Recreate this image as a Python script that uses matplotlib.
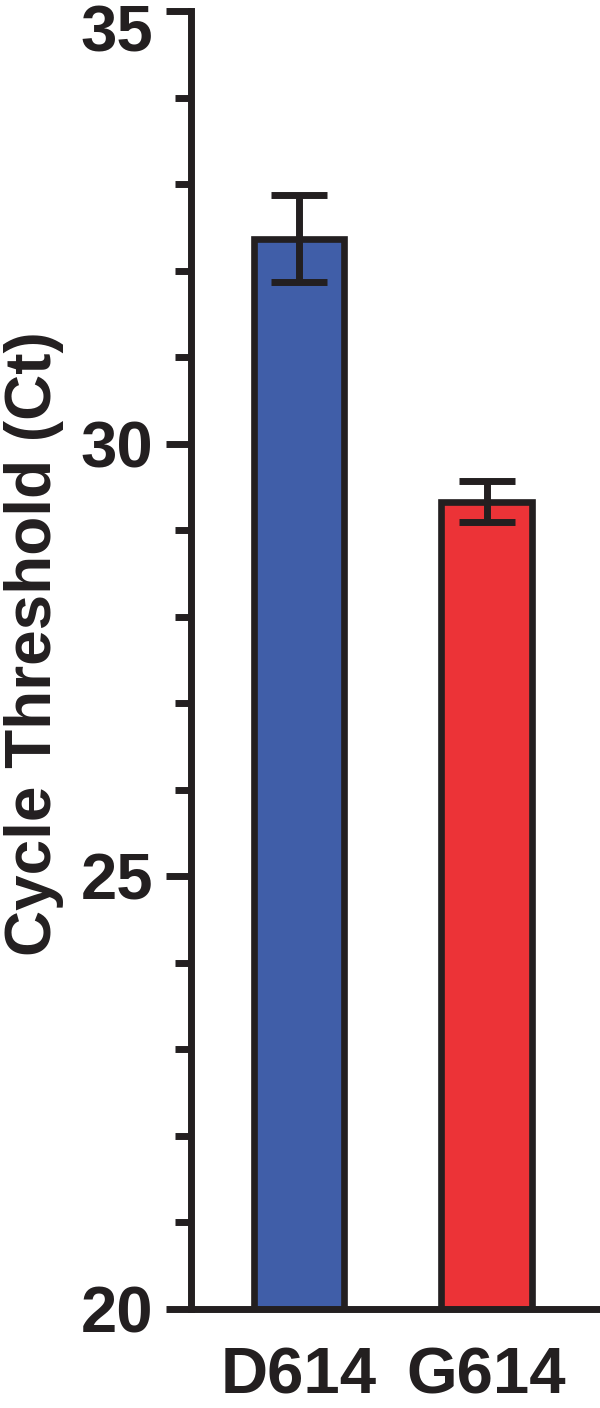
import numpy as np
import matplotlib
matplotlib.use('Agg')
import matplotlib.pyplot as plt
import matplotlib.transforms as mtransforms
from matplotlib.ticker import MultipleLocator

# data
variants = ['D614', 'G614']
ct_mean = [32.37, 29.33]
ct_err = [0.50, 0.24]
bar_colors = ['#405EA8', '#EC3337']
yticks = [20, 25, 30, 35]

ink = '#231F20'
plt.rcParams['font.family'] = ['Liberation Sans', 'DejaVu Sans']
plt.rcParams['font.weight'] = 'bold'

fig = plt.figure(figsize=(6, 14.08), dpi=100)
ax = fig.add_axes([191/600, 99/1408, 409/600, 1298/1408])

x = np.arange(len(variants))
ax.bar(x, ct_mean, width=0.485, color=bar_colors, edgecolor=ink,
       linewidth=4.8, zorder=2)
ax.errorbar(x, ct_mean, yerr=ct_err, fmt='none', ecolor=ink,
            elinewidth=5, capsize=20, capthick=5, zorder=3)

ax.set_ylim(20, 35)
ax.set_xlim(-0.576, 1.605)
ax.set_yticks(yticks)
ax.yaxis.set_minor_locator(MultipleLocator(1))

ax.spines['top'].set_visible(False)
ax.spines['right'].set_visible(False)
for s in ['left', 'bottom']:
    ax.spines[s].set_linewidth(5)
    ax.spines[s].set_color(ink)

ax.tick_params(axis='y', which='major', length=18, width=5, color=ink,
               pad=9, labelsize=47, labelcolor=ink)
ax.tick_params(axis='y', which='minor', length=11.5, width=5, color=ink)
ax.tick_params(axis='x', length=0, pad=27, labelsize=47, labelcolor=ink)

ax.set_xticks(x)
ax.set_xticklabels(variants, fontweight='bold')
ylabs = ax.get_yticklabels()
for t in ylabs:
    t.set_fontweight('bold')
# top label sits a little lower so it stays inside the figure
top = ylabs[-1]
top.set_transform(top.get_transform() +
                  mtransforms.ScaledTranslation(0, -0.17, fig.dpi_scale_trans))

ax.set_ylabel('Cycle Threshold (Ct)', fontsize=46, fontweight='bold', color=ink)
ax.yaxis.set_label_coords(-0.31, 0.513)

fig.savefig('out.png', dpi=100)
